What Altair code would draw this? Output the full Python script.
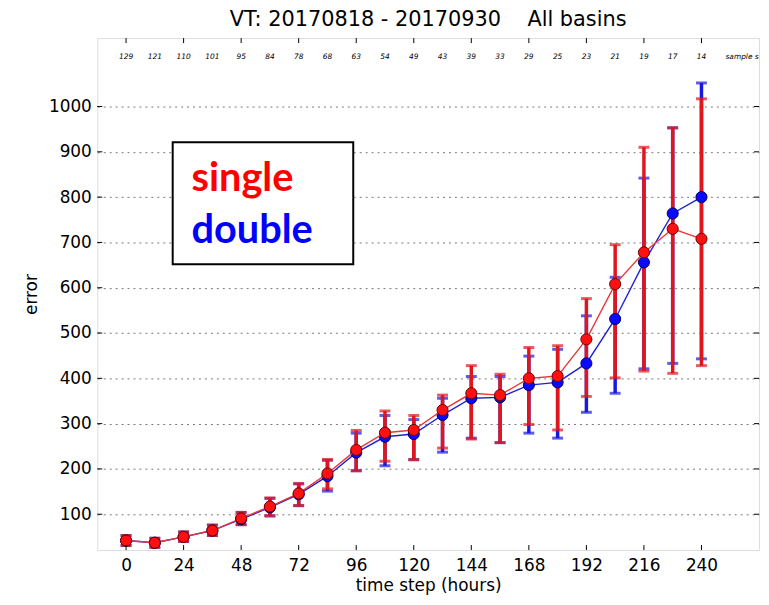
import altair as alt
import pandas as pd

# ---- data ----
hours = list(range(0, 241, 12))
samples = [129, 121, 110, 101, 95, 84, 78, 68, 63, 54, 49, 43, 39, 33, 29, 25, 23, 21, 19, 17, 14]

single_mean = [42, 37, 50, 64, 91, 117, 146, 190, 242, 280, 286, 330, 367, 363, 400, 405, 486, 608, 678, 730, 708]
single_lo = [31, 27, 40, 53, 77, 97, 119, 156, 196, 217, 220, 246, 266, 258, 298, 286, 360, 401, 416, 411, 428]
single_hi = [53, 47, 61, 76, 104, 136, 168, 221, 285, 328, 318, 363, 428, 409, 468, 472, 576, 695, 910, 953, 1017]

double_mean = [42, 37, 50, 64, 89, 115, 144, 184, 236, 271, 277, 319, 356, 358, 385, 391, 433, 531, 656, 764, 800]
double_lo = [31, 27, 40, 53, 77, 96, 119, 151, 196, 207, 221, 237, 268, 258, 279, 268, 325, 367, 421, 433, 443]
double_hi = [53, 47, 61, 76, 104, 135, 167, 219, 279, 318, 309, 356, 404, 404, 449, 464, 538, 623, 842, 953, 1052]

x_ticks = list(range(0, 241, 24))
y_ticks = list(range(100, 1001, 100))

title_text = "VT: 20170818 - 20170930\u00a0\u00a0\u00a0\u00a0All basins"
legend_labels = ["single", "double"]

df = pd.DataFrame({
    "hours": hours, "samples": samples,
    "s_mean": single_mean, "s_lo": single_lo, "s_hi": single_hi,
    "d_mean": double_mean, "d_lo": double_lo, "d_hi": double_hi,
})
xt = pd.DataFrame({"t": x_ticks})
yt = pd.DataFrame({"v": y_ticks})
one = pd.DataFrame({"a": [0]})

W, H = 667, 516
FONT = "DejaVu Sans"
RED_BAR, BLUE_BAR = "#e0161e", "#1818e0"
RED_PT, BLUE_PT = "#ff1010", "#0a0aff"

xs = alt.Scale(domain=[-12, 264], nice=False, zero=False)
ys = alt.Scale(domain=[21, 1151], nice=False, zero=False)
xaxis = alt.Axis(values=x_ticks, title="time step (hours)", grid=False, ticks=False, domain=False,
                 labelFontSize=17, labelPadding=8, titleFontSize=17, titleFontWeight="normal",
                 titlePadding=4, labelFont=FONT, titleFont=FONT, labelColor="black", titleColor="black")
yaxis = alt.Axis(values=y_ticks, format="d", title="error", grid=True, gridDash=[2, 4],
                 gridColor="#777777", gridWidth=1, ticks=False, domain=False, labelFontSize=17,
                 labelPadding=6, titleFontSize=17, titleFontWeight="normal", titlePadding=8,
                 labelFont=FONT, titleFont=FONT, labelColor="black", titleColor="black")

base = alt.Chart(df)
X = alt.X("hours:Q", scale=xs, axis=xaxis)


def bars(lo, hi, color):
    rule = base.mark_rule(color=color, strokeWidth=3.5).encode(
        x=X, y=alt.Y(f"{lo}:Q", scale=ys, axis=yaxis), y2=f"{hi}:Q")
    cap_lo = base.mark_tick(color=color, orient="horizontal", size=11, thickness=3).encode(
        x=X, y=alt.Y(f"{lo}:Q", scale=ys, axis=yaxis))
    cap_hi = base.mark_tick(color=color, orient="horizontal", size=11, thickness=3).encode(
        x=X, y=alt.Y(f"{hi}:Q", scale=ys, axis=yaxis))
    return [rule, cap_lo, cap_hi]


def series(mean, line_color, fill, edge):
    line = base.mark_line(color=line_color, strokeWidth=1.4).encode(
        x=X, y=alt.Y(f"{mean}:Q", scale=ys, axis=yaxis))
    pts = base.mark_point(filled=True, fill=fill, stroke=edge, strokeWidth=1, size=125, opacity=1).encode(
        x=X, y=alt.Y(f"{mean}:Q", scale=ys, axis=yaxis))
    return [line, pts]


tick_bottom = alt.Chart(xt).mark_rule(color="black", strokeWidth=1).encode(
    x=alt.X("t:Q", scale=xs, axis=xaxis), y=alt.value(H), y2=alt.value(H - 5))
tick_top = alt.Chart(xt).mark_rule(color="black", strokeWidth=1).encode(
    x=alt.X("t:Q", scale=xs, axis=xaxis), y=alt.value(0), y2=alt.value(5))
tick_left = alt.Chart(yt).mark_rule(color="black", strokeWidth=1).encode(
    y=alt.Y("v:Q", scale=ys, axis=yaxis), x=alt.value(0), x2=alt.value(5))
tick_right = alt.Chart(yt).mark_rule(color="black", strokeWidth=1).encode(
    y=alt.Y("v:Q", scale=ys, axis=yaxis), x=alt.value(W - 5), x2=alt.value(W))

sample_txt = base.mark_text(fontSize=7.5, fontStyle="italic", font=FONT, color="black").encode(
    x=X, y=alt.value(19), text="samples:Q")
sample_lbl = alt.Chart(pd.DataFrame({"t": [250], "s": ["sample size"]})).mark_text(
    fontSize=7.5, fontStyle="italic", font=FONT, color="black", align="left", clip=True).encode(
    x=alt.X("t:Q", scale=xs, axis=xaxis), y=alt.value(19), text="s:N")

box = alt.Chart(one).mark_rect(fill="white", stroke="black", strokeWidth=2).encode(
    x=alt.value(76), x2=alt.value(258), y=alt.value(105), y2=alt.value(228))
lab_single = alt.Chart(one).mark_text(text=legend_labels[0], font="Lato", fontWeight="bold",
                                      fontSize=40, color="#ff0000", align="left",
                                      baseline="alphabetic").encode(x=alt.value(95), y=alt.value(154))
lab_double = alt.Chart(one).mark_text(text=legend_labels[1], font="Lato", fontWeight="bold",
                                      fontSize=40, color="#0000ff", align="left",
                                      baseline="alphabetic").encode(x=alt.value(95), y=alt.value(207))

layers = (bars("d_lo", "d_hi", BLUE_BAR) + bars("s_lo", "s_hi", RED_BAR)
          + series("d_mean", "#2020d8", BLUE_PT, "#000060")
          + series("s_mean", "#e83838", RED_PT, "#700000")
          + [tick_bottom, tick_top, tick_left, tick_right, sample_txt, sample_lbl,
             box, lab_single, lab_double])

chart = alt.layer(*layers).properties(
    width=W, height=H,
    title=alt.TitleParams(title_text, fontSize=21, font=FONT, fontWeight="normal",
                          color="black", anchor="middle", offset=8),
    autosize=alt.AutoSizeParams(type="none"),
    padding={"left": 90, "top": 28, "right": 2, "bottom": 45},
).configure_view(stroke="black", strokeWidth=1.5).configure(background="white")

chart.save("out.html", embed_options={"renderer": "svg", "actions": False})
